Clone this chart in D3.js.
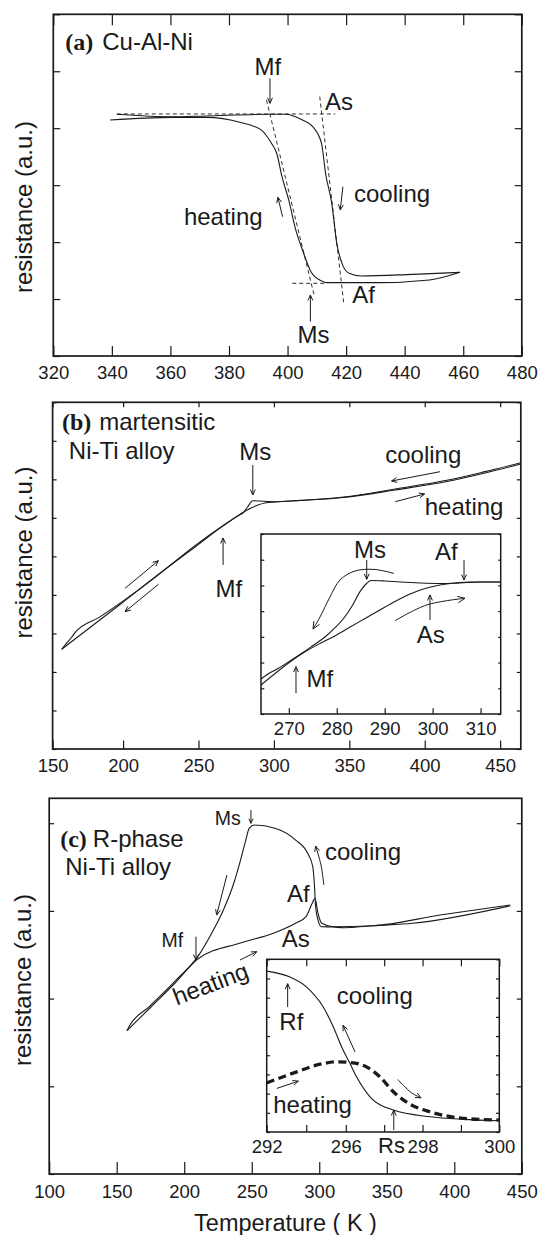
<!DOCTYPE html>
<html><head><meta charset="utf-8">
<script src="https://cdn.jsdelivr.net/npm/d3@7"></script>
<style>
body{margin:0;background:#fff;}
svg text{font-family:"Liberation Sans",Arial,sans-serif;fill:#1a1a1a;}
</style></head><body>
<svg id="chart" width="539" height="1235"></svg>
<script>
// ---------------- DATA ----------------
// Panel (a) Cu-Al-Ni : [temperature K, resistance a.u.]
const cuAlNiHeating = [[339.4,4.144],[360.5,4.19],[372.2,4.19],[384.0,4.10],[391.0,3.97],[394.5,3.735],[396.3,3.56],[398.1,3.15],[400.4,2.74],[402.8,2.213],[405.1,1.861],[408.0,1.481],[411.6,1.317],[413.3,1.288],[430.9,1.288],[448.5,1.335],[458.9,1.469]];
const cuAlNiCooling = [[341.7,4.244],[360.5,4.20],[372.2,4.215],[393.4,4.244],[399.2,4.244],[405.1,4.144],[408.6,4.027],[411.6,3.735],[413.0,3.20],[415.1,2.681],[416.8,1.979],[418.6,1.627],[421.0,1.452],[425.1,1.405],[442.7,1.434],[458.9,1.469]];
const cuAlNiTangents = [
  [[341.7,4.25],[416.3,4.25]],
  [[392.8,4.496],[409.2,1.042]],
  [[411.0,4.554],[419.2,0.925]],
  [[401.6,1.276],[412.7,1.276]]
];
const xTicksA = [320,340,360,380,400,420,440,460,480];

// Panel (b) martensitic Ni-Ti
const niTiHeating = [[156.45,2.588],[197.8,3.751],[225.5,4.595],[247.66,5.244],[266.5,5.802],[277.9,6.101],[284.2,6.243],[289.4,6.334],[294.8,6.392],[300.8,6.412],[317.4,6.451],[346.3,6.529],[380.5,6.724],[414.7,6.944],[440,7.165],[463.7,7.399]];
const niTiCooling = [[156.45,2.588],[158.8,2.70],[163.5,2.90],[165.9,3.019],[183.6,3.43],[219.7,4.41],[247.66,5.28],[266.5,5.80],[277.9,6.09],[279.5,6.127],[282.5,6.282],[286.0,6.443],[300.8,6.42],[317.4,6.455],[346.3,6.54],[380.5,6.75],[414.7,6.975],[440,7.20],[463.7,7.43]];
const xTicksB = [150,200,250,300,350,400,450];
// inset (b)
const insetBCooling = [[264.2,1.361],[265.66,1.556],[267.75,1.770],[270.25,2.061],[272.96,2.392],[275.05,2.664],[277.55,2.995],[279.6,3.345],[281.5,3.734],[283.2,4.20],[284.85,4.757],[286.1,5.056],[287.15,5.193],[290.07,5.173],[293.2,5.134],[297.4,5.095],[301.5,5.076],[305.7,5.095],[309.9,5.134],[314.2,5.134]];
const insetBHeating = [[264.2,1.128],[272.96,2.373],[276.5,2.742],[279.6,3.034],[282.8,3.384],[285.9,3.714],[289.0,4.045],[292.15,4.376],[295.3,4.667],[298.4,4.881],[301.5,5.017],[304.7,5.095],[307.8,5.134],[314.2,5.134]];
const xTicksBInset = [270,280,290,300,310];

// Panel (c) R-phase Ni-Ti
const rPhaseCooling = [[157.6,1.634],[159.5,1.69],[174.6,1.915],[193.2,2.20],[210.0,2.478],[218.9,2.706],[229.0,3.010],[236.7,3.315],[241.7,3.580],[245.6,3.808],[248.1,3.942],[252.0,3.979],[267.2,3.942],[282.5,3.808],[291.4,3.657],[295.2,3.504],[296.5,3.276],[297.3,3.048],[299.1,2.896],[301.6,2.820],[310.4,2.816],[318.2,2.808],[340.0,2.831],[369.05,2.859],[441.6,3.059]];
const rPhaseHeating = [[157.6,1.634],[174.6,1.893],[193.2,2.178],[210.0,2.451],[241.5,2.634],[266.0,2.745],[282.5,2.859],[290.2,2.934],[295.2,3.101],[296.8,3.144],[299.1,2.973],[301.8,2.859],[310.4,2.820],[340.0,2.831],[389.4,2.953],[441.3,3.067]];
const xTicksC = [100,150,200,250,300,350,400,450];
// inset (c)
const insetCCooling = [[292.0,8.384],[293.18,8.072],[294.02,7.552],[294.86,6.513],[295.37,5.474],[295.79,4.434],[296.11,3.571],[296.28,2.874],[296.63,1.835],[297.24,1.143],[298.19,0.795],[299.06,0.660],[299.99,0.587]];
const insetCHeating = [[292.0,2.562],[293.52,3.134],[294.70,3.534],[295.54,3.654],[296.11,3.623],[296.54,3.394],[296.89,2.874],[297.24,2.095],[297.67,1.455],[298.19,1.055],[299.06,0.712],[299.99,0.624]];
const xTicksCInset = [292,294,296,297,298,299,300];
const xLabelsCInset = [292,296,298,300];

// ---------------- SETUP ----------------
const INK = "#1a1a1a";
const TICK_FS = 18.5, LAB_FS = 24;
const svg = d3.select("#chart");

const xa = d3.scaleLinear().domain([320,480]).range([53.3,521.8]);
const ya = d3.scaleLinear().domain([0,6]).range([356,14.3]);
const xb = d3.scaleLinear().domain([150,200,463.7]).range([52.6,123.1,520.8]);
const yb = d3.scaleLinear().domain([0,9]).range([749,402.3]);
const xbi = d3.scaleLinear().domain([264.2,314.2]).range([261,500.7]);
const ybi = d3.scaleLinear().domain([0,7]).range([714,534]);
const xc = d3.scaleLinear().domain([100,450]).range([49.2,521.8]);
const yc = d3.scaleLinear().domain([0,4.284]).range([1174,798.3]);
const xci = d3.scaleLinear().domain([292,296,300]).range([266.7,345.8,499.3]);
const yci = d3.scaleLinear().domain([0,9]).range([1132,959.3]);

function frame(x, y, o) {
  const g = svg.append("g");
  const xr = x.range(), xl = xr[0], xrr = xr[xr.length-1];
  const [yB, yT] = y.range();
  g.append("rect").attr("x",xl).attr("y",yT).attr("width",xrr-xl).attr("height",yB-yT)
    .attr("fill",o.fill||"none").attr("stroke",INK).attr("stroke-width",o.sw||1.7);
  function ax(fn, sc, vals, len, tr, fmt, pad) {
    if (!len) return;
    const a = fn(sc).tickValues(vals).tickSizeInner(-len).tickSizeOuter(0).tickPadding(pad||0)
      .tickFormat(fmt || (() => ""));
    const ag = g.append("g").attr("transform",tr).call(a);
    ag.select(".domain").remove();
    ag.attr("font-family",null).attr("font-size",null);
    ag.selectAll("line").attr("stroke",INK).attr("stroke-width",o.tw||1.2);
    ag.selectAll("text").attr("font-size",TICK_FS).attr("fill",INK);
  }
  ax(d3.axisBottom, x, o.xTicks, o.bLen, `translate(0,${yB})`, o.fmt || (d=>d), o.pad);
  ax(d3.axisTop, x, o.xTicks, o.tLen, `translate(0,${yT})`);
  ax(d3.axisLeft, y, o.yTicks, o.lLen, `translate(${xl},0)`);
  ax(d3.axisRight, y, o.yTicks, o.rLen, `translate(${xrr},0)`);
  return g;
}

function curve(g, x, y, data, o={}) {
  const line = d3.line().x(d=>x(d[0])).y(d=>y(d[1])).curve(o.curve || d3.curveMonotoneX);
  g.append("path").attr("d", line(data)).attr("fill","none").attr("stroke",INK)
    .attr("stroke-width",o.w||1.1).attr("stroke-dasharray",o.dash||null).attr("stroke-linejoin","round");
}

function arrow(g, x, y, pts, o={}) {
  const P = pts.map(p => [x(p[0]), y(p[1])]);
  const line = d3.line().curve(P.length > 2 ? d3.curveCatmullRom : d3.curveLinear);
  g.append("path").attr("d", line(P)).attr("fill","none").attr("stroke",INK).attr("stroke-width",o.w||1);
  const a = P[P.length-2], b = P[P.length-1];
  const ang = Math.atan2(b[1]-a[1], b[0]-a[0]);
  const L = o.head || 6, s = 0.42;
  const h1 = [b[0]-L*Math.cos(ang-s), b[1]-L*Math.sin(ang-s)];
  const h2 = [b[0]-L*Math.cos(ang+s), b[1]-L*Math.sin(ang+s)];
  g.append("path").attr("d", `M${h1}L${b}L${h2}`).attr("fill","none").attr("stroke",INK).attr("stroke-width",o.w||1);
}

function label(g, x, y, T, v, txt, o={}) {
  const t = g.append("text").attr("x",x(T)).attr("y",y(v)).attr("font-size",o.fs||LAB_FS).text(txt);
  if (o.rot) t.attr("transform",`rotate(${o.rot},${x(T)},${y(v)})`);
  return t;
}

function title(g, x, y, T, v, tag, rest, gap) {
  const t = g.append("text").attr("x",x(T)).attr("y",y(v)).attr("font-size",LAB_FS);
  t.append("tspan").attr("font-family","'Liberation Serif','Times New Roman',serif").attr("font-weight","bold").text(tag);
  t.append("tspan").attr("dx",gap).text(rest);
}

function yLabel(cx, cy) {
  svg.append("text").attr("transform",`translate(${cx},${cy}) rotate(-90)`)
    .attr("text-anchor","middle").attr("font-size",LAB_FS).text("resistance (a.u.)");
}

// ---------------- PANEL (a) ----------------
const ga = frame(xa, ya, {xTicks:xTicksA, yTicks:d3.range(0,7), bLen:10, tLen:11, lLen:7, rLen:7, pad:10});
cuAlNiTangents.forEach(t => curve(ga, xa, ya, t, {curve:d3.curveLinear, dash:"4,3", w:0.9}));
curve(ga, xa, ya, cuAlNiHeating);
curve(ga, xa, ya, cuAlNiCooling);
title(ga, xa, ya, 324.1, 5.373, "(a)", "Cu-Al-Ni", 9);
label(ga, xa, ya, 388.7, 4.934, "Mf");
label(ga, xa, ya, 412.8, 4.32, "As");
label(ga, xa, ya, 364.6, 2.30, "heating");
label(ga, xa, ya, 422.7, 2.709, "cooling");
label(ga, xa, ya, 422.1, 0.925, "Af");
label(ga, xa, ya, 403.4, 0.223, "Ms");
arrow(ga, xa, ya, [[394.0,4.876],[394.0,4.437]]);
arrow(ga, xa, ya, [[398.3,2.446],[396.7,2.787]]);
arrow(ga, xa, ya, [[418.9,2.973],[418.0,2.564]]);
arrow(ga, xa, ya, [[407.8,0.602],[407.8,1.071]]);
yLabel(32, 207);

// ---------------- PANEL (b) ----------------
const gb = frame(xb, yb, {xTicks:xTicksB, yTicks:d3.range(0,10), bLen:8.6, tLen:5, lLen:4, rLen:4, pad:9.6});
curve(gb, xb, yb, niTiHeating);
curve(gb, xb, yb, niTiCooling);
title(gb, xb, yb, 156.6, 8.281, "(b)", "martensitic", 8);
label(gb, xb, yb, 161.5, 7.521, "Ni-Ti alloy");
label(gb, xb, yb, 277.0, 7.503, "Ms");
label(gb, xb, yb, 373.8, 7.417, "cooling");
label(gb, xb, yb, 400.0, 6.075, "heating");
label(gb, xb, yb, 261.2, 3.954, "Mf");
arrow(gb, xb, yb, [[266.3,4.777],[266.3,5.478]]);
arrow(gb, xb, yb, [[286.0,7.373],[286.0,6.594]]);
arrow(gb, xb, yb, [[410.2,7.199],[378.0,6.957]]);
arrow(gb, xb, yb, [[380.5,6.42],[399.9,6.62]]);
arrow(gb, xb, yb, [[201.3,4.172],[223.4,4.888]]);
arrow(gb, xb, yb, [[223.4,4.276],[201.3,3.564]]);
yLabel(31.5, 552.5);

// inset (b)
const gbi = frame(xbi, ybi, {xTicks:xTicksBInset, yTicks:d3.range(0,8), bLen:5.7, lLen:3.3, rLen:2.5, pad:7.9, fill:"#fff", sw:1.5});
curve(gbi, xbi, ybi, insetBCooling);
curve(gbi, xbi, ybi, insetBHeating);
label(gbi, xbi, ybi, 283.6, 6.056, "Ms");
label(gbi, xbi, ybi, 300.5, 5.99, "Af");
label(gbi, xbi, ybi, 296.7, 2.75, "As");
label(gbi, xbi, ybi, 273.7, 1.062, "Mf");
arrow(gbi, xbi, ybi, [[286.25,5.99],[286.25,5.239]]);
arrow(gbi, xbi, ybi, [[306.55,5.99],[306.55,5.212]]);
arrow(gbi, xbi, ybi, [[299.45,3.656],[299.45,4.629]]);
arrow(gbi, xbi, ybi, [[271.5,0.805],[271.5,1.84]]);
arrow(gbi, xbi, ybi, [[291.94,5.465],[287.98,5.62],[283.81,5.562],[280.68,5.212],[278.59,4.551],[276.51,3.773],[275.05,3.306]], {head:8});
arrow(gbi, xbi, ybi, [[292.15,3.629],[298.76,4.24],[306.75,4.5]], {head:8});

// ---------------- PANEL (c) ----------------
const gc = frame(xc, yc, {xTicks:xTicksC, yTicks:d3.range(0,5), bLen:12, lLen:5, rLen:5, pad:11.2});
curve(gc, xc, yc, rPhaseCooling);
curve(gc, xc, yc, rPhaseHeating);
title(gc, xc, yc, 108.15, 3.732, "(c)", "R-phase", 6);
label(gc, xc, yc, 111.9, 3.409, "Ni-Ti alloy");
label(gc, xc, yc, 222.6, 3.979, "Ms", {fs:19.5});
label(gc, xc, yc, 304.2, 3.58, "cooling");
label(gc, xc, yc, 276.1, 3.105, "Af");
label(gc, xc, yc, 272.3, 2.592, "As");
label(gc, xc, yc, 183.2, 2.592, "Mf", {fs:19.5});
label(gc, xc, yc, 194.5, 1.92, "heating", {rot:-21});
arrow(gc, xc, yc, [[249.4,4.15],[249.4,3.999]], {head:5});
arrow(gc, xc, yc, [[303.4,3.295],[301.3,3.523],[297.3,3.74]]);
arrow(gc, xc, yc, [[208.7,2.706],[208.7,2.44]]);
arrow(gc, xc, yc, [[231.6,3.409],[224.0,2.953]]);
arrow(gc, xc, yc, [[241.3,2.44],[253.7,2.535]]);
yLabel(31, 980);

// inset (c)
const gci = frame(xci, yci, {xTicks:xTicksCInset, yTicks:d3.range(0,10), bLen:7, tLen:7, lLen:3.3, rLen:3.3, pad:8.2,
  fill:"#fff", sw:1.5, fmt: d => xLabelsCInset.includes(d) ? d : ""});
curve(gci, xci, yci, insetCCooling);
curve(gci, xci, yci, insetCHeating, {w:3.3, dash:"8,4.5"});
label(gci, xci, yci, 292.64, 5.338, "Rf");
label(gci, xci, yci, 295.54, 6.689, "cooling");
label(gci, xci, yci, 292.33, 0.972, "heating");
label(gci, xci, yci, 296.84, -1.107, "Rs", {fs:22});
arrow(gci, xci, yci, [[293.06,6.513],[293.06,7.729]]);
arrow(gci, xci, yci, [[296.24,4.174],[295.86,5.561]]);
arrow(gci, xci, yci, [[292.51,2.271],[293.6,2.651]]);
arrow(gci, xci, yci, [[297.35,2.739],[297.52,2.39],[297.72,2.03],[297.96,1.78]]);
arrow(gci, xci, yci, [[297.25,0.104],[297.25,1.143]]);

svg.append("text").attr("x",285.5).attr("y",1231).attr("text-anchor","middle")
  .attr("font-size",23.5).text("Temperature ( K )");
</script>
</body></html>
